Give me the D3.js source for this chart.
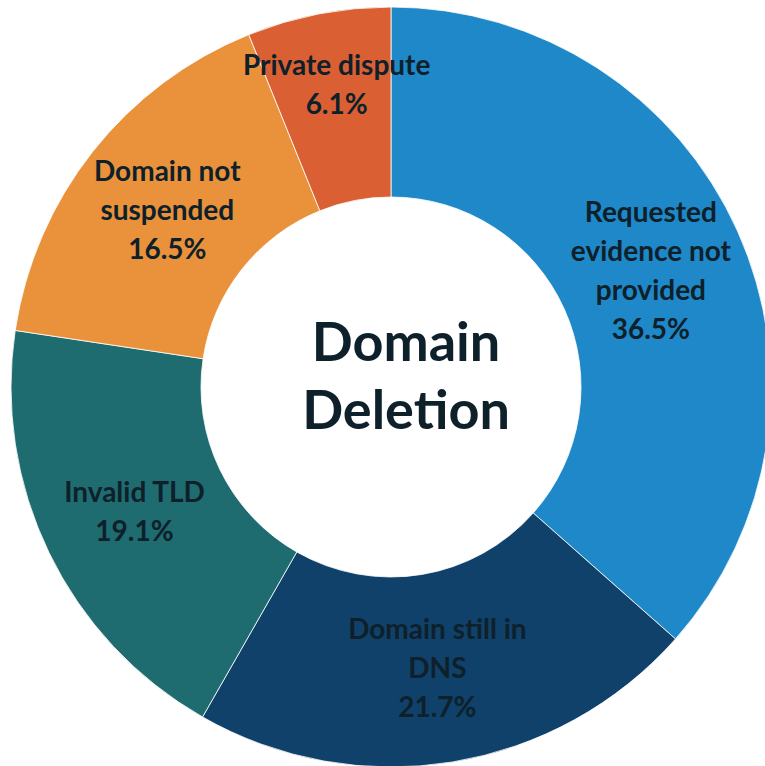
<!DOCTYPE html>
<html lang="en">
  <head>
    <meta charset="utf-8">
    <title>Domain Deletion</title>
    <script src="https://d3js.org/d3.v7.min.js"></script>
    <style>
      body { margin: 0; background: #fff; }
      text { font-family: Lato, "Open Sans", sans-serif; font-weight: 700; fill: #0e202a; }
    </style>
  </head>
  <body>
    <div id="main"></div>
    <script>
      // slices, clockwise from 12 o'clock
      var categories = ["Requested evidence not provided", "Domain still in DNS", "Invalid TLD", "Domain not suspended", "Private dispute"];
      var labelLines = [["Requested", "evidence not", "provided"], ["Domain still in", "DNS"], ["Invalid TLD"], ["Domain not", "suspended"], ["Private dispute"]];
      var shares = [36.5, 21.7, 19.1, 16.5, 6.1];
      var colors = ["#1e88c8", "#10416b", "#1e6c70", "#e9923b", "#da6034"];

      var width = 765, height = 766;
      var cx = 391, cy = 387, outer = 380, inner = 190;
      var lineH = 39;
      var nudge = { "Private dispute": -23 }; // label dragged up in the original

      var svg = d3.select("#main").append("svg")
        .attr("width", width)
        .attr("height", height);
      var g = svg.append("g").attr("transform", "translate(" + cx + "," + cy + ")");

      var pie = d3.pie().sort(null).value(function(d) { return d.value; });
      var arc = d3.arc().innerRadius(inner).outerRadius(outer);
      var labelArc = d3.arc().innerRadius((inner + outer) / 2).outerRadius((inner + outer) / 2);

      var data = categories.map(function(c, i) {
        return { name: c, value: shares[i], color: colors[i], lines: labelLines[i].concat([shares[i].toFixed(1) + "%"]) };
      });
      var arcs = pie(data);

      g.selectAll("path").data(arcs).enter().append("path")
        .attr("d", arc)
        .attr("fill", function(d) { return d.data.color; })
        .attr("stroke", "#fff")
        .attr("stroke-width", 0.8);

      var labels = g.selectAll(".lbl").data(arcs).enter().append("text")
        .attr("class", "lbl")
        .attr("text-anchor", "middle")
        .style("font-size", "28px")
        .attr("transform", function(d) {
          var c = labelArc.centroid(d);
          return "translate(" + c[0] + "," + (c[1] + (nudge[d.data.name] || 0)) + ")";
        });
      labels.selectAll("tspan").data(function(d) { return d.data.lines; }).enter().append("tspan")
        .attr("x", 0)
        .attr("y", function(t, i, nodes) {
          var n = nodes.length;
          return (i - (n - 1) / 2) * lineH + 10;
        })
        .text(function(t) { return t; });

      // centre title
      var title = g.append("text")
        .attr("text-anchor", "middle")
        .style("font-size", "54px");
      title.append("tspan").attr("x", 15).attr("y", -26).text("Domain");
      title.append("tspan").attr("x", 15).attr("y", 42).text("Deletion");
    </script>
  </body>
</html>
